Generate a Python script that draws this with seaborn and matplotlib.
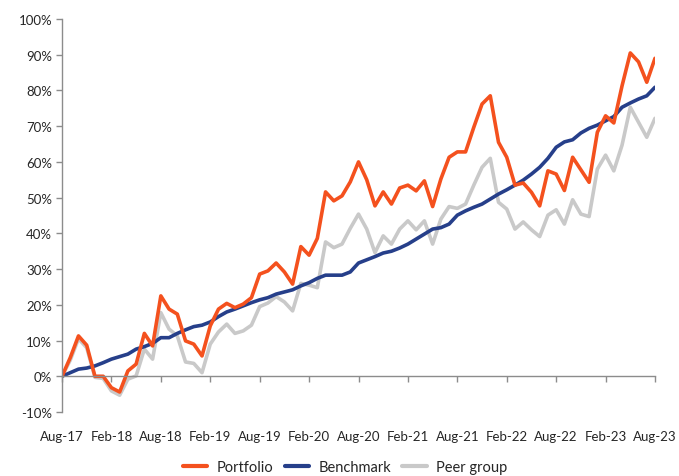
import matplotlib
matplotlib.use("Agg")
import matplotlib.pyplot as plt
import seaborn as sns
import pandas as pd
import numpy as np
from matplotlib.ticker import FixedLocator, FuncFormatter

sns.set_theme(style="white")
plt.rcParams['font.family'] = ['Lato', 'DejaVu Sans']

# Monthly index from Aug-17 (0) to Aug-23 (72)
months = list(range(73))
tick_positions = [0, 6, 12, 18, 24, 30, 36, 42, 48, 54, 60, 66, 72]
tick_labels = ["Aug-17", "Feb-18", "Aug-18", "Feb-19", "Aug-19", "Feb-20", "Aug-20",
               "Feb-21", "Aug-21", "Feb-22", "Aug-22", "Feb-23", "Aug-23"]

portfolio = [0, 5.2, 11.3, 8.7, 0, 0, -3.2, -4.4, 1.5, 3.4, 12.0, 8.5, 22.5,
             18.8, 17.4, 9.9, 9.0, 5.7, 14.1, 18.8, 20.4, 19.2, 20.2, 22.0, 28.6,
             29.5, 31.7, 29.2, 25.8, 36.3, 33.9, 38.6, 51.6, 49.1, 50.5, 54.4, 60.0,
             55.0, 47.7, 51.6, 48.2, 52.7, 53.5, 51.9, 54.7, 47.5, 55.2, 61.3, 62.8,
             62.8, 69.7, 76.2, 78.5, 65.5, 61.3, 53.5, 54.1, 51.5, 47.7, 57.5, 56.6,
             52.0, 61.3, 57.8, 54.3, 68.3, 72.9, 70.9, 81.3, 90.5, 88.0, 82.3, 89.0]

benchmark = [0, 1.0, 2.0, 2.3, 2.9, 3.8, 4.8, 5.5, 6.2, 7.6, 8.3, 9.2, 10.8,
             10.8, 12.0, 13.0, 13.9, 14.3, 15.2, 16.7, 18.0, 18.8, 19.7, 20.6, 21.4,
             22.0, 23.0, 23.6, 24.2, 25.3, 26.2, 27.4, 28.3, 28.3, 28.3, 29.2, 31.7,
             32.6, 33.5, 34.5, 35.0, 35.9, 37.0, 38.4, 39.8, 41.2, 41.6, 42.6, 45.1,
             46.3, 47.3, 48.2, 49.6, 51.0, 52.2, 53.5, 54.9, 56.6, 58.5, 61.0, 64.1,
             65.6, 66.2, 68.1, 69.4, 70.3, 71.5, 72.7, 75.3, 76.5, 77.6, 78.5, 80.9]

peer_group = [0, 4.5, 10.5, 8.0, -0.3, -0.6, -4.1, -5.3, -0.8, 0.1, 7.6, 4.8, 17.8,
              13.2, 11.3, 4.0, 3.6, 1.0, 9.0, 12.4, 14.6, 12.0, 12.7, 14.3, 19.5,
              20.5, 22.3, 20.8, 18.3, 26.0, 25.5, 24.8, 37.6, 36.0, 37.0, 41.4, 45.4,
              41.2, 34.6, 39.3, 37.0, 41.2, 43.5, 41.0, 43.5, 37.0, 44.0, 47.5, 47.0,
              48.2, 53.5, 58.5, 61.0, 48.7, 46.8, 41.2, 43.2, 41.0, 39.1, 45.1, 46.6,
              42.6, 49.4, 45.4, 44.7, 58.0, 61.9, 57.5, 64.7, 75.3, 71.1, 66.9, 72.2]

series_names = ["Portfolio", "Benchmark", "Peer group"]
colors = {"Portfolio": "#F4511E", "Benchmark": "#263F8A", "Peer group": "#C9C9C9"}

df = pd.DataFrame({"month": months, "Portfolio": portfolio,
                   "Benchmark": benchmark, "Peer group": peer_group})

fig = plt.figure(figsize=(6.79, 4.77), dpi=100)
ax = fig.add_axes([62 / 679, 1 - 413 / 477, (655 - 62) / 679, (413 - 20) / 477])

# draw in z-order: peer group bottom, then benchmark, portfolio on top
for name in ["Peer group", "Benchmark", "Portfolio"]:
    sns.lineplot(data=df, x="month", y=name, ax=ax, color=colors[name],
                 linewidth=2.6, label=name, legend=False)

ax.set_xlim(0, 72)
ax.set_ylim(-10, 100)
ax.set_xlabel("")
ax.set_ylabel("")

ax.yaxis.set_major_locator(FixedLocator(list(range(-10, 101, 10))))
ax.yaxis.set_major_formatter(FuncFormatter(lambda v, p: f"{int(round(v))}%"))
ax.set_xticks(tick_positions)
ax.set_xticklabels(tick_labels)

for s in ["top", "right"]:
    ax.spines[s].set_visible(False)
ax.spines["left"].set_color("#8C8C8C")
ax.spines["bottom"].set_color("#8C8C8C")
ax.spines["left"].set_linewidth(1.0)
ax.spines["bottom"].set_linewidth(1.0)
ax.spines["bottom"].set_position(("data", 0))

ax.tick_params(axis="y", which="major", direction="out", length=4, width=1,
               color="#8C8C8C", labelsize=9.5, labelcolor="#262626", pad=3, left=True)
ax.tick_params(axis="x", which="major", direction="out", length=4, width=1,
               color="#8C8C8C", labelsize=9.5, labelcolor="#262626", pad=35, bottom=True)

handles = {l.get_label(): l for l in ax.get_lines()}
from matplotlib.lines import Line2D
leg_handles = [Line2D([0], [0], color=colors[n], linewidth=3) for n in series_names]
fig.legend(leg_handles, series_names, loc="center", bbox_to_anchor=(0.508, 0.018),
           ncol=3, frameon=False, fontsize=10.5, handlelength=1.7,
           columnspacing=0.8, handletextpad=0.6, labelcolor="#262626")

fig.savefig("out.png", dpi=100)
